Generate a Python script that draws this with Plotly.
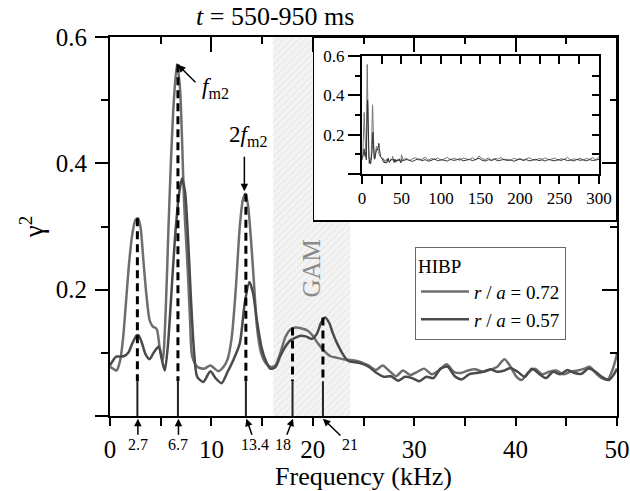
import plotly.graph_objects as go

# ---------------- data ----------------
freq_a = [0.0, 0.3, 0.65, 1.0, 1.3, 1.6, 1.9, 2.2, 2.5, 2.75, 3.0, 3.3, 3.6, 3.9, 4.2, 4.6, 4.9, 5.2,
          5.5, 5.75, 6.0, 6.3, 6.6, 6.9, 7.1, 7.3, 7.5, 7.7, 7.9, 8.1, 8.6, 9.3, 9.9, 10.7, 11.2, 11.6,
          12.0, 12.4, 12.8, 13.1, 13.35, 13.6, 13.9, 14.2, 14.5, 14.9, 15.3, 15.8, 16.3, 16.8, 17.3,
          17.8, 18.3, 19.0, 19.5, 20.0, 20.5, 21.0, 21.7, 22.4, 23.0, 24.1, 24.8, 25.5, 26.2, 26.9,
          27.5, 28.2, 28.9, 29.6, 30.3, 31.0, 31.7, 32.4, 33.2, 33.9, 34.6, 35.3, 36.0, 36.8, 37.5,
          38.2, 38.9, 39.5, 40.1, 40.6, 41.2, 41.9, 42.6, 43.3, 44.0, 44.7, 45.4, 46.1, 46.8, 47.3,
          47.9, 48.5, 49.1, 49.6, 50.0]
gamma_a = [0.078, 0.075, 0.072, 0.088, 0.125, 0.185, 0.245, 0.288, 0.31, 0.313, 0.30, 0.245, 0.19,
           0.152, 0.142, 0.138, 0.108, 0.088, 0.17, 0.29, 0.40, 0.50, 0.557, 0.52, 0.44, 0.34, 0.28,
           0.22, 0.15, 0.095, 0.078, 0.075, 0.08, 0.071, 0.078, 0.09, 0.124, 0.2, 0.3, 0.342, 0.352,
           0.335, 0.28, 0.21, 0.14, 0.1, 0.085, 0.078, 0.08, 0.1, 0.125, 0.137, 0.14, 0.138, 0.135,
           0.127, 0.115, 0.105, 0.095, 0.092, 0.09, 0.088, 0.085, 0.08, 0.073, 0.08, 0.072, 0.063,
           0.072, 0.065, 0.07, 0.075, 0.066, 0.072, 0.082, 0.07, 0.068, 0.072, 0.074, 0.07, 0.073,
           0.078, 0.09, 0.078, 0.062, 0.057, 0.068, 0.075, 0.066, 0.07, 0.072, 0.066, 0.07, 0.072,
           0.075, 0.078, 0.068, 0.06, 0.058, 0.075, 0.098]

freq_b = [0.0, 0.3, 0.6, 1.0, 1.4, 1.8, 2.2, 2.6, 2.8, 3.1, 3.5, 3.9, 4.3, 4.8, 5.1, 5.4, 5.7, 6.0,
          6.4, 6.8, 7.1, 7.4, 7.7, 8.0, 8.3, 8.6, 9.2, 9.9, 10.4, 11.0, 11.6, 12.2, 12.8, 13.3, 13.75,
          14.1, 14.5, 14.9, 15.3, 15.8, 16.3, 16.8, 17.3, 17.8, 18.3, 18.8, 19.3, 19.9, 20.4, 20.8,
          21.2, 21.6, 22.0, 22.4, 23.0, 23.5, 24.2, 24.8, 25.5, 26.3, 27.0, 27.7, 28.4, 29.1, 29.8,
          30.5, 31.2, 31.9, 32.6, 33.3, 34.0, 34.7, 35.4, 36.1, 36.8, 37.5, 38.2, 38.9, 39.5, 40.2,
          40.9, 41.6, 42.3, 43.0, 43.7, 44.4, 45.1, 45.8, 46.5, 47.2, 47.9, 48.5, 49.2, 49.7, 50.0]
gamma_b = [0.08, 0.088, 0.094, 0.094, 0.095, 0.1, 0.115, 0.127, 0.128, 0.118, 0.098, 0.09, 0.1,
           0.11, 0.09, 0.072, 0.11, 0.18, 0.28, 0.35, 0.376, 0.355, 0.28, 0.18, 0.1, 0.062, 0.054,
           0.071, 0.06, 0.052, 0.07, 0.09, 0.115, 0.18, 0.212, 0.195, 0.15, 0.112, 0.09, 0.075,
           0.077, 0.095, 0.11, 0.12, 0.124, 0.127, 0.126, 0.122, 0.13, 0.147, 0.156, 0.148, 0.13,
           0.115, 0.097, 0.087, 0.085, 0.083, 0.078, 0.068, 0.062, 0.063, 0.056, 0.062, 0.06, 0.055,
           0.062, 0.06, 0.075, 0.078, 0.063, 0.058, 0.066, 0.068, 0.07, 0.074, 0.07, 0.072, 0.076,
           0.07, 0.062, 0.075, 0.067, 0.06, 0.07, 0.066, 0.073, 0.068, 0.067, 0.075, 0.07, 0.062,
           0.057, 0.066, 0.075]

# inset: 50-300 kHz tail (the 0-50 kHz part reuses the curves above)
inset_tail_freq = [52, 56, 60, 64, 68, 72, 76, 80, 84, 88, 92, 96, 100, 104, 108, 112, 116, 120,
                   124, 128, 132, 136, 140, 144, 148, 152, 156, 160, 164, 168, 172, 176, 180, 184,
                   188, 192, 196, 200, 204, 208, 212, 216, 220, 224, 228, 232, 236, 240, 244, 248,
                   252, 256, 260, 264, 268, 272, 276, 280, 284, 288, 292, 296, 300]
inset_tail_a = [0.072, 0.080, 0.068, 0.078, 0.083, 0.070, 0.076, 0.085, 0.071, 0.079,
                0.074, 0.082, 0.069, 0.077, 0.084, 0.072, 0.080, 0.075, 0.070, 0.081,
                0.076, 0.073, 0.083, 0.071, 0.092, 0.078, 0.074, 0.082, 0.070, 0.079,
                0.076, 0.084, 0.072, 0.075, 0.069, 0.080, 0.074, 0.078, 0.071, 0.077,
                0.083, 0.073, 0.070, 0.079, 0.075, 0.082, 0.072, 0.076, 0.081, 0.070,
                0.078, 0.074, 0.085, 0.072, 0.077, 0.073, 0.080, 0.071, 0.079, 0.075,
                0.083, 0.072, 0.088]
inset_tail_b = [0.066, 0.074, 0.070, 0.064, 0.072, 0.077, 0.068, 0.073, 0.065, 0.071,
                0.076, 0.067, 0.073, 0.070, 0.066, 0.075, 0.069, 0.072, 0.078, 0.067,
                0.071, 0.074, 0.068, 0.076, 0.080, 0.070, 0.066, 0.073, 0.069, 0.075,
                0.067, 0.071, 0.074, 0.068, 0.072, 0.065, 0.070, 0.076, 0.069, 0.073,
                0.067, 0.071, 0.075, 0.068, 0.072, 0.066, 0.074, 0.070, 0.067, 0.073,
                0.069, 0.075, 0.068, 0.071, 0.066, 0.074, 0.070, 0.072, 0.067, 0.073,
                0.069, 0.071, 0.075]

peak_freqs = [2.7, 6.7, 13.4, 18, 21]
peak_tops = [0.313, 0.557, 0.352, 0.14, 0.156]
peak_labels = ["2.7", "6.7", "13.4", "18", "21"]
dash_bottom = 0.055
gam_band = [16.1, 23.7]

y_tickvals = [0, 0.2, 0.4, 0.6]
y_ticktext = ["", "0.2", "0.4", "0.6"]
inset_y_tickvals = [0, 0.2, 0.4, 0.6]
inset_y_ticktext = ["", "0.2", "0.4", "0.6"]

series_names = ["<i>r</i> / <i>a</i> = 0.72", "<i>r</i> / <i>a</i> = 0.57"]
series_colors = ["#6e6e6e", "#4a4a4a"]

FONT = "Liberation Serif, Times New Roman, DejaVu Serif, serif"

# ---------------- figure ----------------
fig = go.Figure()

# GAM hatched band (cut where the inset box covers it)
inset_left_f = 20.02
inset_bottom_v = 0.307
fig.add_trace(go.Scatter(
    x=[gam_band[0], gam_band[0], inset_left_f, inset_left_f, gam_band[1], gam_band[1], gam_band[0]],
    y=[0, 0.6, 0.6, inset_bottom_v, inset_bottom_v, 0, 0],
    fill="toself", mode="lines", line=dict(width=0),
    fillcolor="#f2f2f2",
    fillpattern=dict(shape="/", fgcolor="#dcdcdc", bgcolor="#f4f4f4", size=5, solidity=0.25),
    showlegend=False, hoverinfo="skip"))

for fx, gy, name, col in [(freq_a, gamma_a, series_names[0], series_colors[0]),
                          (freq_b, gamma_b, series_names[1], series_colors[1])]:
    fig.add_trace(go.Scatter(x=fx, y=gy, mode="lines", name=name,
                             line=dict(color=col, width=2.5, shape="spline", smoothing=0.7)))

# dashed peak markers
for f, top in zip(peak_freqs, peak_tops):
    fig.add_trace(go.Scatter(x=[f, f], y=[top, dash_bottom], mode="lines",
                             line=dict(color="black", width=3, dash="8px,5px"),
                             showlegend=False, hoverinfo="skip"))
    fig.add_trace(go.Scatter(x=[f, f], y=[dash_bottom, 0], mode="lines",
                             line=dict(color="#222", width=2),
                             showlegend=False, hoverinfo="skip"))

# dummy traces for mirrored-tick axes
fig.add_trace(go.Scatter(x=[None], y=[None], xaxis="x2", yaxis="y2", showlegend=False, hoverinfo="skip"))

# inset
inset_fa = freq_a + inset_tail_freq
inset_ga = gamma_a + inset_tail_a
inset_fb = freq_b + inset_tail_freq
inset_gb = gamma_b + inset_tail_b
fig.add_trace(go.Scatter(x=inset_fa, y=inset_ga, mode="lines", xaxis="x3", yaxis="y3",
                         line=dict(color="#777", width=1), showlegend=False))
fig.add_trace(go.Scatter(x=inset_fb, y=inset_gb, mode="lines", xaxis="x3", yaxis="y3",
                         line=dict(color="#333", width=1), showlegend=False))
fig.add_trace(go.Scatter(x=[None], y=[None], xaxis="x4", yaxis="y4", showlegend=False, hoverinfo="skip"))

axis_common = dict(showline=True, linecolor="black", linewidth=2, showgrid=False, zeroline=False,
                   tickcolor="black", tickwidth=2, automargin=False)
tickfont = dict(family=FONT, size=25, color="black")
inset_font = dict(family=FONT, size=17, color="black")

fig.update_layout(
    width=630, height=491,
    margin=dict(l=110, r=13, t=37, b=75),
    paper_bgcolor="white", plot_bgcolor="rgba(0,0,0,0)",
    font=dict(family=FONT, color="black"),
    xaxis=dict(range=[0, 50], tick0=0, dtick=10, ticks="outside", ticklen=8, tickfont=tickfont,
               ticklabelstandoff=2,
               minor=dict(dtick=5, ticks="outside", ticklen=8, tickwidth=2, tickcolor="black"),
               title=dict(text="Frequency (kHz)", font=dict(family=FONT, size=26), standoff=0),
               **axis_common),
    yaxis=dict(range=[0, 0.6], tickvals=y_tickvals, ticktext=y_ticktext, ticks="outside",
               ticklen=13, tickfont=tickfont, ticklabelstandoff=3,
               minor=dict(dtick=0.1, ticks="outside", ticklen=7, tickwidth=2, tickcolor="black"),
               title=dict(text="γ<sup>2</sup>", font=dict(family=FONT, size=27), standoff=4),
               **axis_common),
    xaxis2=dict(range=[0, 50], overlaying="x", side="top", anchor="y", tick0=0, dtick=10,
                ticks="inside", ticklen=15, showticklabels=False,
                minor=dict(dtick=5, ticks="inside", ticklen=7, tickwidth=2, tickcolor="black"),
                **axis_common),
    yaxis2=dict(range=[0, 0.6], overlaying="y", side="right", anchor="x", tick0=0, dtick=0.2,
                ticks="inside", ticklen=15, showticklabels=False,
                minor=dict(dtick=0.1, ticks="inside", ticklen=7, tickwidth=2, tickcolor="black"),
                **axis_common),
    xaxis3=dict(domain=[0.497, 0.9645], anchor="y3", range=[0, 300], tick0=0, dtick=50,
                ticks="outside", ticklen=8, tickfont=inset_font,
                minor=dict(dtick=25, ticks="outside", ticklen=8, tickwidth=2, tickcolor="black"),
                **axis_common),
    yaxis3=dict(domain=[0.6385, 0.950], anchor="x3", range=[0, 0.6], tickvals=inset_y_tickvals,
                ticktext=inset_y_ticktext, ticks="outside", ticklen=12, tickfont=inset_font,
                minor=dict(dtick=0.1, ticks="outside", ticklen=5, tickwidth=2, tickcolor="black"),
                **axis_common),
    xaxis4=dict(range=[0, 300], overlaying="x3", side="top", anchor="y4", tick0=0, dtick=25,
                ticks="inside", ticklen=8, showticklabels=False, **axis_common),
    yaxis4=dict(domain=[0.6385, 0.950], range=[0, 0.6], overlaying="y3", side="right", anchor="x4",
                tick0=0, dtick=0.1, ticks="inside", ticklen=7, showticklabels=False, **axis_common),
    legend=dict(x=0.6016, y=0.446, xanchor="left", yanchor="top", bgcolor="white",
                bordercolor="#666", borderwidth=1, font=dict(family=FONT, size=19),
                title=dict(text="HIBP", font=dict(family=FONT, size=19)),
                itemwidth=48, tracegroupgap=0),
    showlegend=True,
)

# inset white box
fig.add_shape(type="rect", xref="paper", yref="paper", x0=0.4004, x1=1.0, y0=0.5145, y1=1.0,
              fillcolor="white", line=dict(color="black", width=2), layer="below")

anns = []
anns.append(dict(x=0.166, y=1.053, xref="paper", yref="paper", showarrow=False, yanchor="middle",
                 text="<i>t</i> = 550-950 ms", font=dict(family=FONT, size=26)))
anns.append(dict(x=19.9, y=0.233, xref="x", yref="y", showarrow=False, text="GAM", textangle=-90,
                 font=dict(family=FONT, size=25, color="#8a8a8a")))
# f_m2 label and arrow
anns.append(dict(x=6.7, y=0.556, xref="x", yref="y", ax=19, ay=19, text="", showarrow=True,
                 arrowhead=2, arrowsize=1, arrowwidth=1.5, arrowcolor="black"))
anns.append(dict(x=8.85, y=0.52, xref="x", yref="y", showarrow=False, xanchor="left",
                 text="<i>f</i><sub>m2</sub>", font=dict(family=FONT, size=23)))
# 2f_m2 label and arrow
anns.append(dict(x=13.25, y=0.356, xref="x", yref="y", ax=0, ay=-36, text="", showarrow=True,
                 arrowhead=2, arrowsize=1, arrowwidth=1.5, arrowcolor="black"))
anns.append(dict(x=11.55, y=0.443, xref="x", yref="y", showarrow=False, xanchor="left",
                 text="2<i>f</i><sub>m2</sub>", font=dict(family=FONT, size=23)))
# small frequency labels below the axis
label_offsets = [(0, 26), (0, 26), (9, 26), (-10, 26), (27, 26)]
head_x = [2.75, 6.75, 13.45, 18.05, 21.0]
for hx, lab, (ox, oy) in zip(head_x, peak_labels, label_offsets):
    anns.append(dict(x=hx, y=-0.007, xref="x", yref="paper", ax=ox, ay=oy, text=lab,
                     showarrow=True, arrowhead=2, arrowsize=1, arrowwidth=1.5, arrowcolor="black",
                     font=dict(family=FONT, size=16), standoff=0, startstandoff=0))
fig.update_layout(annotations=anns)

fig.write_html("out.html")
